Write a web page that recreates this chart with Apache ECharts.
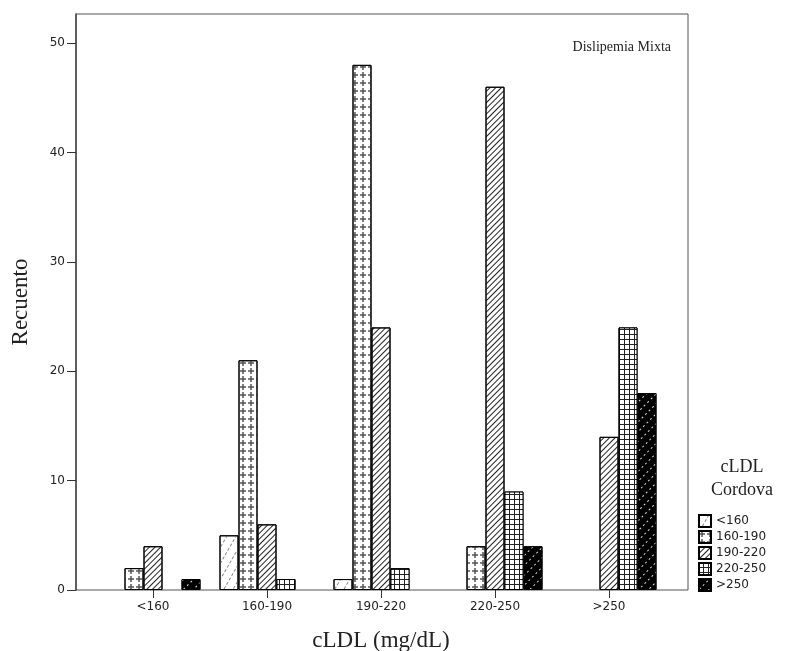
<!DOCTYPE html>
<html><head><meta charset="utf-8">
<script src="https://cdn.jsdelivr.net/npm/echarts@6/dist/echarts.min.js"></script>
<style>html,body{margin:0;padding:0;background:#fff}#c{width:792px;height:651px}</style>
</head><body><div id="c"></div>
<script>
const categories = ['<160', '160-190', '190-220', '220-250', '>250'];
const seriesNames = ['<160', '160-190', '190-220', '220-250', '>250'];
const s_lt160 = [0, 5, 1, 0, 0];
const s_160_190 = [2, 21, 48, 4, 0];
const s_190_220 = [4, 6, 24, 46, 14];
const s_220_250 = [0, 1, 2, 9, 24];
const s_gt250 = [1, 0, 0, 4, 18];
const yTicks = [0, 10, 20, 30, 40, 50];
const yMax = 52.65;

const values = [s_lt160, s_160_190, s_190_220, s_220_250, s_gt250];
const plus = 'path://M3,0L5,0L5,3L8,3L8,5L5,5L5,8L3,8L3,5L0,5L0,3L3,3Z';
const styles = [
  {color: '#fff', decal: {symbol: 'rect', color: '#888', dashArrayX: [1, 7], dashArrayY: [3, 2], symbolSize: 1}},
  {color: '#fff', decal: {symbol: plus, color: '#555', dashArrayX: [6, 2], dashArrayY: [6, 2], symbolSize: 1, symbolKeepAspect: true}},
  {color: '#fff', decal: {symbol: 'rect', color: '#222', dashArrayX: [1, 0], dashArrayY: [1, 3], rotation: -Math.PI / 4}},
  {color: '#222', decal: {symbol: 'rect', color: '#fff', dashArrayX: [4, 1], dashArrayY: [4, 1], symbolSize: 1}},
  {color: '#000', decal: {symbol: 'rect', color: '#ddd', dashArrayX: [1, 6], dashArrayY: [2, 3], symbolSize: 1}}
];

const series = seriesNames.map((n, i) => ({
  name: n, type: 'bar', xAxisIndex: 1, yAxisIndex: 1,
  data: values[i].map(v => (v === 0 ? '-' : v)), barWidth: 19, barGap: '0%',
  itemStyle: Object.assign({borderColor: '#000', borderWidth: 1}, styles[i]),
  emphasis: {disabled: true}
}));

const chart = echarts.init(document.getElementById('c'), null, {renderer: 'canvas'});
chart.setOption({
  animation: false,
  aria: {enabled: true, decal: {show: true}},
  backgroundColor: '#fff',
  title: [
    {text: 'Dislipemia Mixta', right: 121, top: 40, padding: 0,
     textStyle: {fontFamily: 'Liberation Serif', fontWeight: 'normal', fontSize: 14, color: '#222'}},
    {text: 'cLDL\nCordova', left: 742, top: 456, textAlign: 'center', padding: 0,
     textStyle: {fontFamily: 'Liberation Serif', fontWeight: 'normal', fontSize: 18, color: '#222', lineHeight: 23, align: 'center'}}
  ],
  legend: {
    orient: 'vertical', left: 698, top: 514, itemWidth: 12, itemHeight: 12, itemGap: 2,
    padding: 0, icon: 'rect',
    textStyle: {fontFamily: 'DejaVu Sans', fontSize: 12, color: '#222'},
    data: seriesNames
  },
  grid: [
    {left: 76, right: 104, top: 14, bottom: 61, show: true, borderColor: '#555', borderWidth: 1,
     containLabel: false, outerBoundsMode: 'none'},
    {left: 96, right: 126, top: 14, bottom: 61, containLabel: false, outerBoundsMode: 'none'}
  ],
  xAxis: [
    {gridIndex: 0, type: 'value', min: 0, max: 1, show: false},
    {gridIndex: 1, type: 'category', data: categories,
     axisLine: {show: false},
     axisTick: {show: true, alignWithLabel: true, length: 8, inside: false, lineStyle: {color: '#333'}},
     axisLabel: {fontFamily: 'DejaVu Sans', fontSize: 12, color: '#222', margin: 11},
     name: 'cLDL (mg/dL)', nameLocation: 'middle', nameGap: 39,
     nameTextStyle: {fontFamily: 'Liberation Serif', fontSize: 23, color: '#222'}}
  ],
  yAxis: [
    {gridIndex: 0, type: 'value', min: 0, max: yMax, interval: 10,
     axisLine: {show: true, lineStyle: {color: '#444', width: 1.5}},
     axisTick: {show: true, length: 9, lineStyle: {color: '#333'}, customValues: yTicks},
     axisLabel: {fontFamily: 'DejaVu Sans', fontSize: 12, color: '#222', margin: 11, customValues: yTicks},
     splitLine: {show: false},
     name: 'Recuento', nameLocation: 'middle', nameGap: 44, nameRotate: 90,
     nameTextStyle: {fontFamily: 'Liberation Serif', fontSize: 23, color: '#222'}},
    {gridIndex: 1, type: 'value', min: 0, max: yMax, show: false}
  ],
  series: series
});
</script></body></html>
